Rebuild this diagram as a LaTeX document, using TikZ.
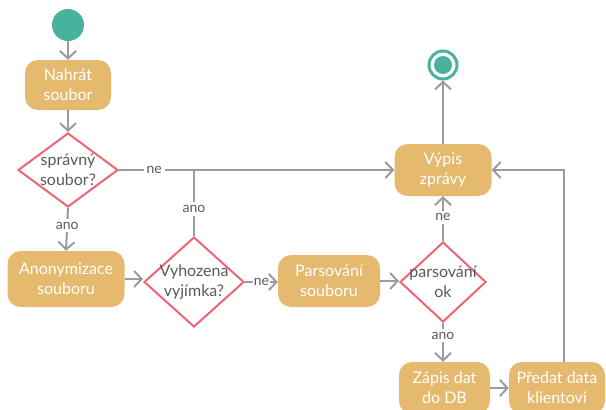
\documentclass[tikz,border=0pt]{standalone}
\usepackage{fontspec}
\setmainfont{Lato}
\usetikzlibrary{shapes.geometric,arrows.meta}
\definecolor{teal}{HTML}{48B39C}
\definecolor{gold}{HTML}{E6BA6E}
\definecolor{decred}{HTML}{EC6671}
\definecolor{linegray}{HTML}{9B9B9B}
\definecolor{textgray}{HTML}{5A5A5A}
\tikzset{
  stepbox/.style={draw=none, fill=gold, rounded corners=13pt, text=white,
    align=center, font=\fontsize{16}{20}\selectfont, inner sep=0pt},
  decision/.style={diamond, draw=decred, line width=2pt, fill=white,
    inner sep=0pt, minimum width=#1},
  dectext/.style={align=center, text=textgray, font=\fontsize{16}{20}\selectfont},
  flow/.style={draw=linegray, line width=2pt,
    -{Straight Barb[length=7.5pt,width=16pt,line width=2pt]}},
  plain/.style={draw=linegray, line width=2pt},
  guard/.style={fill=white, text=textgray, inner sep=3pt,
    font=\fontsize{14}{16}\selectfont},
}
\begin{document}
\begin{tikzpicture}[x=1pt,y=-1pt]
\useasboundingbox (0,0) rectangle (606,410);

% start and end states
\node[circle, fill=teal, minimum size=32pt, inner sep=0pt] (start) at (68,25) {};
\node[circle, draw=teal, line width=3pt, fill=white, minimum size=28pt, inner sep=0pt] (end) at (443,65) {};
\fill[teal] (end.center) circle (9pt);

% activities
\node[stepbox, minimum width=86pt, minimum height=50pt] (upload) at (68,85) {Nahrát\\soubor};
\node[stepbox, minimum width=117pt, minimum height=56pt] (anon) at (66,279) {Anonymizace\\souboru};
\node[stepbox, minimum width=102pt, minimum height=52pt] (parse) at (329,281) {Parsování\\souboru};
\node[stepbox, minimum width=97pt, minimum height=52pt] (msg) at (443,170) {Výpis\\zprávy};
\node[stepbox, minimum width=91pt, minimum height=52pt] (store) at (444.5,388) {Zápis dat\\do DB};
\node[stepbox, minimum width=96pt, minimum height=52pt] (send) at (557,388) {Předat data\\klientovi};

% decisions
\node[decision=100pt, minimum height=74pt,
  label={[dectext]center:{správný\\soubor?}}] (okfile) at (68,170) {};
\node[decision=100pt, minimum height=90pt,
  label={[dectext]center:{Vyhozena\\vyjímka?}}] (exc) at (194,282) {};
\node[decision=86pt, minimum height=80pt,
  label={[dectext]center:{parsování\\ok}}] (okparse) at (443,282) {};

\coordinate (join) at (194,170);

% connectors
\draw[flow] (start) -- (upload);
\draw[flow] (upload) -- (okfile);
\draw[flow] (okfile.east) -- (msg.west) node[guard, pos=0.128] {ne};
\draw[plain] (exc.north) -- (join) node[guard, pos=0.41] {ano};
\draw[flow] (okfile.south) -- (anon.north) node[guard, pos=0.41] {ano};
\draw[flow] (anon.east) -- (exc.west |- anon.east);
\draw[flow] (exc.east) -- (parse.west |- exc.east) node[guard, inner sep=1pt, pos=0.5] {ne};
\draw[flow] (parse.east) -- (okparse.west |- parse.east);
\draw[flow] (okparse.north) -- (msg.south) node[guard, pos=0.53] {ne};
\draw[flow] (okparse.south) -- (okparse.south |- store.north) node[guard, pos=0.33] {ano};
\draw[flow] (store.east) -- (send.west);
\draw[flow] ([xshift=7pt]send.north) |- (msg.east);
\draw[flow] (msg.north) -- (end.south);
\end{tikzpicture}
\end{document}
